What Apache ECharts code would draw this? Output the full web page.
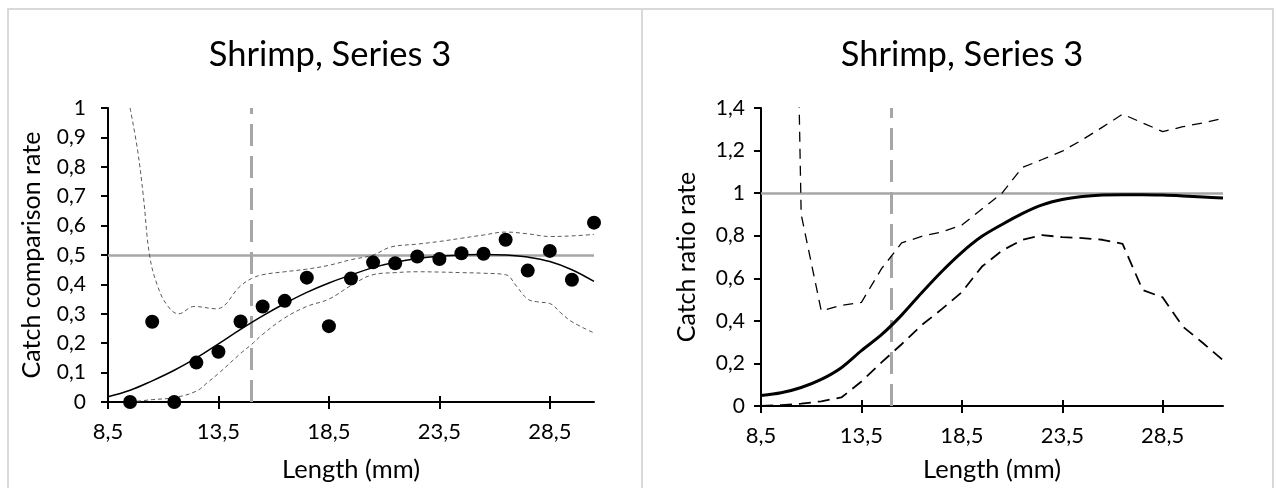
<!DOCTYPE html>
<html>
<head>
<meta charset="utf-8">
<script src="https://cdn.jsdelivr.net/npm/echarts@6/dist/echarts.min.js"></script>
<style>
  html, body { margin: 0; background: #fff; }
  #main { width: 1276px; height: 488px; }
</style>
</head>
<body>
<div id="main"></div>
<script>
// ---- left panel: catch comparison rate ----
const obsLen = [9.5, 10.5, 11.5, 12.5, 13.5, 14.5, 15.5, 16.5, 17.5, 18.5, 19.5, 20.5, 21.5, 22.5, 23.5, 24.5, 25.5, 26.5, 27.5, 28.5, 29.5, 30.5];
const ccrObserved = [0, 0.273, 0, 0.134, 0.171, 0.274, 0.325, 0.344, 0.423, 0.258, 0.42, 0.475, 0.472, 0.495, 0.486, 0.506, 0.504, 0.552, 0.447, 0.514, 0.416, 0.61];

const fitLenLeft = [8.5, 9.5, 10.5, 11.5, 12.5, 13.5, 14.5, 15.5, 16.5, 17.5, 18.5, 19.5, 20.5, 21.5, 22.5, 23.5, 24.5, 25.5, 26.5, 27.5, 28.5, 29.5, 30.5];
const ccrFit = [0.018, 0.04, 0.072, 0.108, 0.15, 0.198, 0.247, 0.293, 0.335, 0.373, 0.405, 0.432, 0.457, 0.475, 0.488, 0.496, 0.5, 0.502, 0.5, 0.493, 0.478, 0.45, 0.41];

const ccrUpperLen = [9.5, 9.84, 10.1, 10.38, 10.72, 11.17, 11.7, 12.4, 13.4, 14.5, 15.0, 15.5, 16.5, 17.5, 18.5, 19.5, 20.5, 21.3, 22.5, 23.5, 24.5, 25.5, 26.5, 27.5, 28.5, 29.5, 30.5];
const ccrUpper = [1.0, 0.856, 0.7, 0.5, 0.4, 0.33, 0.3, 0.325, 0.317, 0.395, 0.42, 0.433, 0.443, 0.452, 0.465, 0.484, 0.5, 0.527, 0.537, 0.546, 0.557, 0.568, 0.578, 0.572, 0.563, 0.565, 0.57];

const ccrLowerLen = [9.5, 10.5, 11.5, 12.5, 13.0, 13.5, 14.5, 15.0, 15.5, 16.5, 17.5, 18.5, 19.5, 20.5, 21.5, 22.5, 23.5, 24.5, 25.5, 26.5, 27.0, 27.5, 28.0, 28.5, 29.0, 29.5, 30.5];
const ccrLower = [0, 0.008, 0.015, 0.037, 0.066, 0.097, 0.165, 0.196, 0.23, 0.286, 0.325, 0.35, 0.396, 0.433, 0.44, 0.443, 0.442, 0.44, 0.438, 0.433, 0.393, 0.35, 0.34, 0.335, 0.303, 0.273, 0.235];

// ---- right panel: catch ratio rate ----
const crLen = [8.5, 9.5, 10.5, 11.5, 12.5, 13.5, 14.5, 15.5, 16.5, 17.5, 18.5, 19.5, 20.5, 21.5, 22.5, 23.5, 24.5, 25.5, 26.5, 27.5, 28.5, 29.5, 30.5, 31.5];
const crFit = [0.049, 0.062, 0.087, 0.125, 0.18, 0.26, 0.335, 0.427, 0.532, 0.632, 0.722, 0.797, 0.853, 0.904, 0.945, 0.97, 0.984, 0.991, 0.993, 0.993, 0.991, 0.987, 0.982, 0.977];
const crLower = [0, 0.004, 0.011, 0.022, 0.04, 0.115, 0.205, 0.29, 0.38, 0.455, 0.535, 0.655, 0.73, 0.78, 0.803, 0.793, 0.789, 0.781, 0.762, 0.545, 0.51, 0.373, 0.296, 0.215];
// upper band starts at 9.5, above the top of the axis there
const crUpperLen = [9.5, 10.5, 11.5, 12.5, 13.5, 14.5, 15.5, 16.5, 17.5, 18.5, 19.5, 20.5, 21.5, 22.5, 23.5, 24.5, 25.5, 26.5, 27.5, 28.5, 29.5, 30.5, 31.5];
const crUpper = [6, 0.9, 0.447, 0.473, 0.487, 0.645, 0.766, 0.797, 0.818, 0.85, 0.925, 1.0, 1.12, 1.158, 1.197, 1.251, 1.31, 1.371, 1.33, 1.289, 1.312, 1.33, 1.351];

const xTicks = [8.5, 13.5, 18.5, 23.5, 28.5];
const refLength = 15;
const titleText = 'Shrimp, Series 3';

const FONT = 'Lato';

function pairs(xs, ys) {
  return xs.map(function (x, i) { return [x, ys[i]]; });
}
function comma(v) {
  return String(+(+v).toFixed(2)).replace('.', ',');
}

function xAxes(grid, max) {
  return [{
    gridIndex: grid, type: 'value', min: 8.5, max: max, position: 'bottom',
    name: 'Length (mm)', nameLocation: 'middle', nameGap: grid === 0 ? 55 : 51,
    nameTextStyle: { fontFamily: FONT, fontSize: 25.5, color: '#000' },
    axisLine: { lineStyle: { color: '#000', width: 2 } },
    axisTick: { length: 7, customValues: xTicks, lineStyle: { color: '#000', width: 2 } },
    axisLabel: { customValues: xTicks, formatter: comma, margin: 19, fontFamily: FONT, fontSize: 22, color: '#000' },
    splitLine: { show: false }
  }, {
    // inner half of the crossing tick marks
    gridIndex: grid, type: 'value', min: 8.5, max: max, position: 'bottom',
    axisLine: { show: false },
    axisTick: { inside: true, length: 6, customValues: xTicks, lineStyle: { color: '#000', width: 2 } },
    axisLabel: { show: false },
    splitLine: { show: false }
  }];
}

function yAxis(grid, max, interval, name, margin) {
  return {
    gridIndex: grid, type: 'value', min: 0, max: max, interval: interval,
    name: name, nameLocation: 'middle', nameGap: grid === 0 ? 64 : 62,
    nameTextStyle: { fontFamily: FONT, fontSize: 25, color: '#000' },
    axisLine: { show: true, lineStyle: { color: '#000', width: 2 } },
    axisTick: { show: true, length: 7, lineStyle: { color: '#000', width: 2 } },
    axisLabel: { formatter: comma, margin: margin, fontFamily: FONT, fontSize: 21, color: '#000' },
    splitLine: { show: false }
  };
}

function refLines(yValue) {
  return {
    silent: true, symbol: 'none', z: 1, label: { show: false },
    data: [
      { yAxis: yValue, lineStyle: { color: '#a6a6a6', width: 2.5, type: 'solid' } },
      { xAxis: refLength, lineStyle: { color: '#a6a6a6', width: 3, type: [22, 10] } }
    ]
  };
}

const chart = echarts.init(document.getElementById('main'));
chart.setOption({
  animation: false,
  backgroundColor: '#fff',
  graphic: [
    { type: 'rect', shape: { x: 8, y: 9, width: 634, height: 500 }, style: { fill: 'none', stroke: '#d9d9d9', lineWidth: 2 }, silent: true },
    { type: 'rect', shape: { x: 642, y: 9, width: 631, height: 500 }, style: { fill: 'none', stroke: '#d9d9d9', lineWidth: 2 }, silent: true }
  ],
  title: [
    { text: titleText, left: 325, top: 32, textAlign: 'center', textStyle: { fontFamily: FONT, fontSize: 34.5, fontWeight: 'normal', color: '#000' } },
    { text: titleText, left: 957, top: 32, textAlign: 'center', textStyle: { fontFamily: FONT, fontSize: 34.5, fontWeight: 'normal', color: '#000' } }
  ],
  grid: [
    { left: 108, right: 682, top: 108, bottom: 85 },
    { left: 761, right: 53, top: 108, bottom: 77 }
  ],
  xAxis: xAxes(0, 30.5).concat(xAxes(1, 31.5)),
  yAxis: [
    yAxis(0, 1, 0.1, 'Catch comparison rate', 22),
    yAxis(1, 1.4, 0.2, 'Catch ratio rate', 16)
  ],
  series: [
    {
      type: 'line', xAxisIndex: 0, yAxisIndex: 0, data: pairs(fitLenLeft, ccrFit),
      smooth: 0.4, showSymbol: false, lineStyle: { color: '#000', width: 1.5 },
      markLine: refLines(0.5), z: 3
    },
    {
      type: 'line', xAxisIndex: 0, yAxisIndex: 0, data: pairs(ccrUpperLen, ccrUpper),
      smooth: 0.4, showSymbol: false, lineStyle: { color: '#595959', width: 1, type: [4, 3] }, z: 2
    },
    {
      type: 'line', xAxisIndex: 0, yAxisIndex: 0, data: pairs(ccrLowerLen, ccrLower),
      smooth: 0.4, showSymbol: false, lineStyle: { color: '#595959', width: 1, type: [4, 3] }, z: 2
    },
    {
      type: 'scatter', xAxisIndex: 0, yAxisIndex: 0, data: pairs(obsLen, ccrObserved),
      symbolSize: 14, itemStyle: { color: '#000', opacity: 1 }, z: 4
    },
    {
      type: 'line', xAxisIndex: 2, yAxisIndex: 1, data: pairs(crLen, crFit),
      smooth: 0.3, showSymbol: false, lineStyle: { color: '#000', width: 3 },
      markLine: refLines(1), z: 3
    },
    {
      type: 'line', xAxisIndex: 2, yAxisIndex: 1, data: pairs(crUpperLen, crUpper),
      showSymbol: false, lineStyle: { color: '#000', width: 1.3, type: [10, 7] }, z: 2
    },
    {
      type: 'line', xAxisIndex: 2, yAxisIndex: 1, data: pairs(crLen, crLower),
      showSymbol: false, lineStyle: { color: '#000', width: 1.8, type: [12, 7] }, z: 2
    }
  ]
});
</script>
</body>
</html>
